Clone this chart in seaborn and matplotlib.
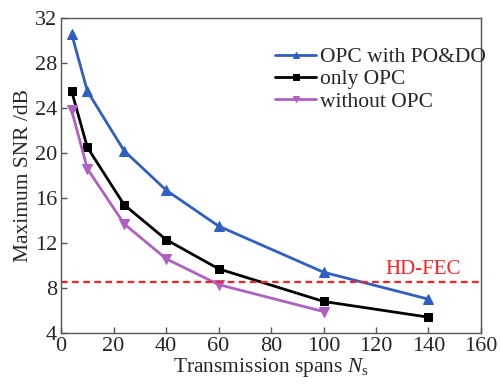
import matplotlib
matplotlib.use("Agg")
import matplotlib.pyplot as plt
import seaborn as sns
import pandas as pd

spans = [4, 10, 24, 40, 60, 100, 140]
opc_podo = [30.6, 25.5, 20.2, 16.7, 13.5, 9.4, 7.0]
only_opc = [25.5, 20.5, 15.4, 12.3, 9.7, 6.8, 5.4]
spans_wo = [4, 10, 24, 40, 60, 100]
without_opc = [23.8, 18.6, 13.7, 10.6, 8.3, 5.9]
hd_fec = 8.5

sns.set_style("ticks")
plt.rcParams['font.family'] = ['Liberation Serif', 'DejaVu Serif']
plt.rcParams['mathtext.fontset'] = 'custom'
plt.rcParams['mathtext.rm'] = 'Liberation Serif'
plt.rcParams['mathtext.it'] = 'Liberation Serif:italic'

fig = plt.figure(figsize=(5.01, 3.84), dpi=100)
ax = fig.add_axes([0.122, 0.133, 0.838, 0.820])

df1 = pd.DataFrame({"x": spans, "y": opc_podo})
df2 = pd.DataFrame({"x": spans, "y": only_opc})
df3 = pd.DataFrame({"x": spans_wo, "y": without_opc})

sns.lineplot(data=df1, x="x", y="y", ax=ax, color="#2f5fc0", marker="^", markersize=7,
             linewidth=2, markeredgecolor="#2f5fc0", label="OPC with PO&DO")
sns.lineplot(data=df2, x="x", y="y", ax=ax, color="black", marker="s", markersize=6,
             linewidth=2, markeredgecolor="black", label="only OPC")
sns.lineplot(data=df3, x="x", y="y", ax=ax, color="#b060c0", marker="v", markersize=7,
             linewidth=2, markeredgecolor="#b060c0", label="without OPC")
ax.axhline(hd_fec, color="#ff2020", linestyle=(0, (3, 2)), linewidth=1.6)
ax.text(138, hd_fec + 0.3, "HD-FEC", color="#ff2020", fontsize=15, ha="center", va="bottom")

ax.set_xlim(0, 160)
ax.set_ylim(4, 32)
ax.set_xticks(range(0, 161, 20))
ax.set_yticks(range(4, 33, 4))
ax.tick_params(direction="in", labelsize=16, length=4, width=1, color="#555555", pad=3)
for s in ax.spines.values():
    s.set_color("#555555")
    s.set_linewidth(1)
ax.set_xlabel("Transmission spans $N_\\mathrm{s}$", fontsize=15.5, labelpad=0)
ax.set_ylabel("Maximum SNR /dB", fontsize=15.5, labelpad=1)

leg = ax.legend(loc="upper left", bbox_to_anchor=(0.49, 0.935), frameon=False, fontsize=15.5,
                handlelength=1.9, handletextpad=0.15, labelspacing=0.1, borderaxespad=0,
                markerscale=0.7)

fig.savefig("out.png", dpi=100)
